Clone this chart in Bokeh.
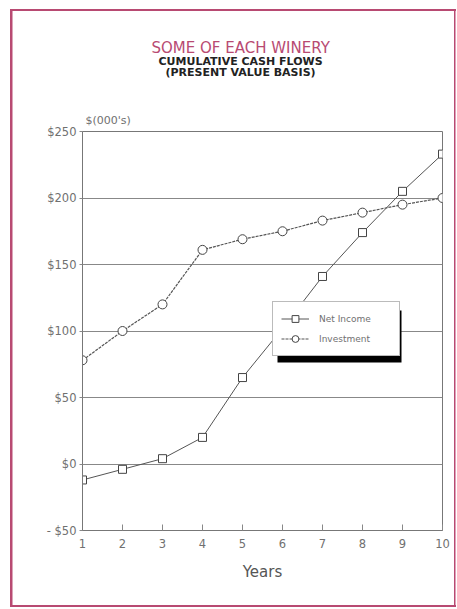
from bokeh.plotting import figure
from bokeh.models import Range1d, FixedTicker, Legend, LegendItem, BoxAnnotation, Title
from bokeh.embed import file_html
from bokeh.resources import INLINE

years = [1, 2, 3, 4, 5, 6, 7, 8, 9, 10]
net_income = [-12, -4, 4, 20, 65, 102, 141, 174, 205, 233]
investment = [78, 100, 120, 161, 169, 175, 183, 189, 195, 200]
y_ticks = [-50, 0, 50, 100, 150, 200, 250]
y_tick_labels = ["- $50", "$0", "$50", "$100", "$150", "$200", "$250"]
x_tick_labels = ["1", "2", "3", "4", "5", "6", "7", "8", "9", "10"]

W, H = 457, 609
FL, FR, FT, FB = 82, 442, 131, 530
XMIN, XMAX, YMIN, YMAX = 1, 10, -50, 250

def dx(px):
    return XMIN + (px - FL) * (XMAX - XMIN) / (FR - FL)

def dy(py):
    return YMAX - (py - FT) * (YMAX - YMIN) / (FB - FT)

FONT = "DejaVu Sans"
GRAY = "#707070"
PINK = "#b84a72"

p = figure(width=W, height=H, output_backend="svg", toolbar_location=None,
           x_range=Range1d(XMIN, XMAX), y_range=Range1d(YMIN, YMAX),
           min_border_left=FL, min_border_right=W - FR,
           min_border_top=FT, min_border_bottom=H - FB)
p.border_fill_alpha = 0
p.background_fill_color = "white"
g = "linear-gradient(%s,%s)" % (PINK, PINK)
p.styles = {
    "background-color": "white",
    "background-image": ", ".join([g] * 4),
    "background-position": "10px 9px, 10px 9px, 10px 605px, 454px 9px",
    "background-size": "2.5px 598px, 446px 2px, 446px 2px, 1.5px 598px",
    "background-repeat": "no-repeat",
}
p.outline_line_color = "#777777"
p.outline_line_width = 1
p.xgrid.visible = False
p.ygrid.ticker = FixedTicker(ticks=y_ticks)
p.ygrid.grid_line_color = "#888888"
p.ygrid.grid_line_width = 1

p.yaxis.ticker = FixedTicker(ticks=y_ticks)
p.yaxis.major_label_overrides = {t: l for t, l in zip(y_ticks, y_tick_labels)}
p.xaxis.ticker = FixedTicker(ticks=years)
p.xaxis.major_label_overrides = {t: l for t, l in zip(years, x_tick_labels)}
for ax in (p.xaxis, p.yaxis):
    ax.axis_line_color = "#777777"
    ax.major_tick_line_color = "#888888"
    ax.minor_tick_line_color = None
    ax.major_label_text_font = FONT
    ax.major_label_text_font_size = "11.5px"
    ax.major_label_text_color = GRAY
p.yaxis.major_tick_in = 0
p.yaxis.major_tick_out = 3
p.yaxis.major_label_standoff = 3
p.xaxis.major_tick_in = 6
p.xaxis.major_tick_out = 0
p.xaxis.major_label_standoff = 8
p.xaxis.axis_label = "Years"
p.xaxis.axis_label_text_font = FONT
p.xaxis.axis_label_text_font_style = "normal"
p.xaxis.axis_label_text_font_size = "15px"
p.xaxis.axis_label_text_color = "#555555"
p.xaxis.axis_label_standoff = 12

l1 = p.line(years, net_income, line_color="#555555", line_width=1)
m1 = p.scatter(years, net_income, marker="square", size=8, fill_color="white",
               line_color="#444444", line_width=1)
l2 = p.line(years, investment, line_color="#555555", line_width=1.2, line_dash="3 1")
m2 = p.scatter(years, investment, marker="circle", size=9, fill_color="white",
               line_color="#444444", line_width=1)

# legend shadow
p.add_layout(BoxAnnotation(left=dx(277), right=dx(401), top=dy(310), bottom=dy(362),
                           fill_color="black", fill_alpha=1, line_color=None))
legend = Legend(items=[LegendItem(label="Net Income", renderers=[l1, m1]),
                       LegendItem(label="Investment", renderers=[l2, m2])],
                location=(190, 174))
legend.background_fill_color = "white"
legend.background_fill_alpha = 1
legend.border_line_color = "#777777"
legend.label_text_font = FONT
legend.label_text_font_size = "9px"
legend.label_text_color = GRAY
legend.glyph_width = 28
legend.glyph_height = 17
legend.padding = 8
legend.spacing = 3
legend.margin = 0
legend.label_standoff = 10
legend.label_width = 72
p.add_layout(legend, "center")

def title(text, size, standoff, offset, color="#222222", style="bold"):
    p.add_layout(Title(text=text, align="left", offset=offset, standoff=standoff,
                       text_font=FONT, text_font_size=size, text_font_style=style,
                       text_line_height=1.0, text_color=color), "above")

title("$(000's)", "11px", 9, 3, color=GRAY, style="normal")
title(" ", "10px", 16, 0)
title("(PRESENT VALUE BASIS)", "11px", 0, 83)
title("CUMULATIVE CASH FLOWS", "11px", -9, 76)
title("SOME OF EACH WINERY", "15px", 2, 69, color=PINK, style="normal")

open("out.html", "w").write(file_html(p, INLINE))
